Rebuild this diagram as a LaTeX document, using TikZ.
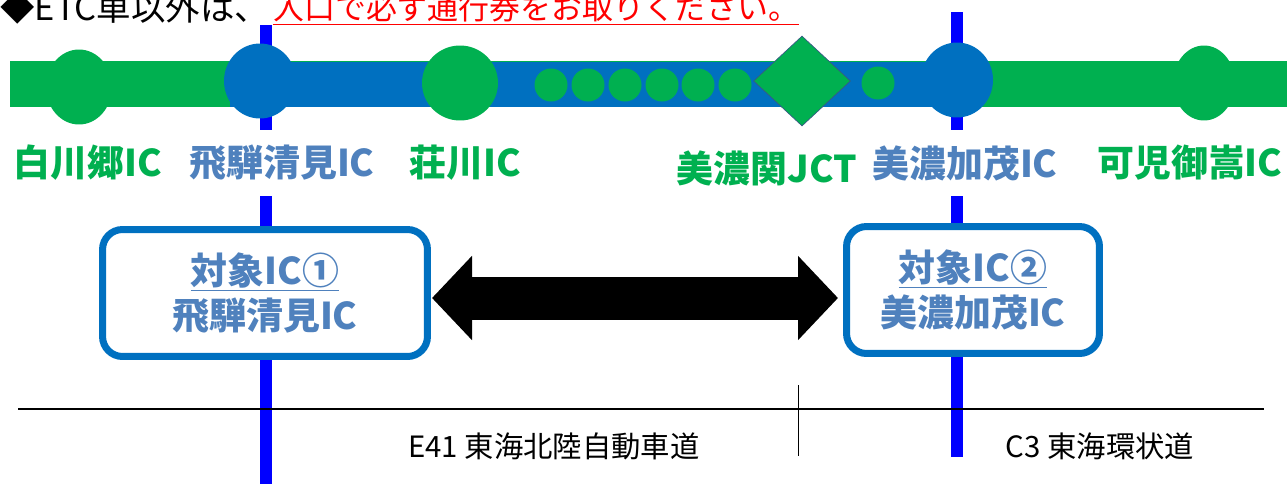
\documentclass[tikz,border=0pt]{standalone}
\usepackage{fontspec}
\setmainfont{Noto Sans CJK JP}
\usetikzlibrary{shapes.geometric,arrows.meta}
\definecolor{icgreen}{HTML}{00B050}
\definecolor{roadblue}{HTML}{0070C0}
\definecolor{icgray}{HTML}{4F81BD}

\begin{document}
\begin{tikzpicture}[x=0.02cm, y=-0.02cm,
    ic/.style={ellipse, inner sep=0pt, minimum width=1.44cm, minimum height=1.5cm},
    pt/.style={circle, fill=icgreen, inner sep=0pt, minimum size=0.66cm},
    lbl/.style={font=\fontsize{21}{25}\selectfont\bfseries, inner sep=0pt},
    target/.style={draw=roadblue, line width=0.14cm, rounded corners=0.4cm, fill=white,
        align=center, inner sep=0pt, text=icgray, font=\fontsize{21}{25.6}\selectfont\bfseries}]
    \useasboundingbox (0,0) rectangle (1287,484);
    % notice on top
    \node[anchor=base west, inner sep=0pt, font=\fontsize{19.6}{22}\selectfont] (etc) at (0,20) {◆ETC車以外は、};
    \node[anchor=base west, inner sep=0pt, text=red, font=\fontsize{17.6}{20}\selectfont] (ticket) at (273,19) {\underline{入口で必ず通行券をお取りください。}};
    % road boundaries
    \draw[blue, line width=0.24cm] (266,25) -- (266,130) (266,196) -- (266,484);
    \draw[blue, line width=0.24cm] (957,12) -- (957,130) (957,196) -- (957,457);
    % road
    \fill[icgreen] (10,61) rectangle (1287,107);
    \fill[roadblue] (230,62) rectangle (957,107);
    \node[ic, fill=icgreen, minimum width=1.32cm] (shirakawago) at (79,87) {};
    \node[ic, fill=roadblue] (hidakiyomi) at (260,81) {};
    \node[ic, fill=icgreen, minimum width=1.52cm] (shokawa) at (460,83) {};
    \foreach \x in {551,588,625,662,698,735}
        \node[pt] (pt\x) at (\x,85) {};
    \node[diamond, fill=icgreen, draw=icgray!70!black, inner sep=0pt,
        minimum width=1.94cm, minimum height=1.8cm] (minoseki) at (802,81) {};
    \node[pt] (pt878) at (878,83) {};
    \node[ic, fill=roadblue] (minokamo) at (957,80) {};
    \node[ic, fill=icgreen, minimum width=1.24cm] (kanimitake) at (1204,83) {};
    % names
    \node[lbl, text=icgreen] (lshirakawago) at (88,163) {白川郷IC};
    \node[lbl, text=icgray] (lhidakiyomi) at (282,163) {飛騨清見IC};
    \node[lbl, text=icgreen] (lshokawa) at (465,163) {荘川IC};
    \node[lbl, text=icgreen] (lminoseki) at (767,168) {美濃関JCT};
    \node[lbl, text=icgray] (lminokamo) at (965,163) {美濃加茂IC};
    \node[lbl, text=icgreen, anchor=west] (lkanimitake) at (1097,163) {可児御嵩IC};
    % target ICs
    \node[target, minimum width=6.5cm, minimum height=2.54cm] (target1) at (265,293)
        {\underline{対象IC①}\\飛騨清見IC};
    \node[target, minimum width=5.06cm, minimum height=2.54cm] (target2) at (973,290)
        {\underline{対象IC②}\\美濃加茂IC};
    \coordinate (arrL) at (432,298);
    \coordinate (arrR) at (838,298);
    \draw[line width=0.86cm, {Triangle[length=0.8cm, width=1.64cm]}-{Triangle[length=0.8cm, width=1.64cm]}] (arrL) -- (arrR);
    % road sections
    \draw[line width=0.04cm] (18,409) coordinate (secL) -- (1264,409) coordinate (secR);
    \draw[line width=0.02cm] (798,385) coordinate (divT) -- (798,456) coordinate (divB);
    \node[font=\fontsize{16.7}{20}\selectfont] (e41) at (554,446) {E41 東海北陸自動車道};
    \node[font=\fontsize{16.7}{20}\selectfont] (c3) at (1100,446) {C3 東海環状道};
\end{tikzpicture}
\end{document}
